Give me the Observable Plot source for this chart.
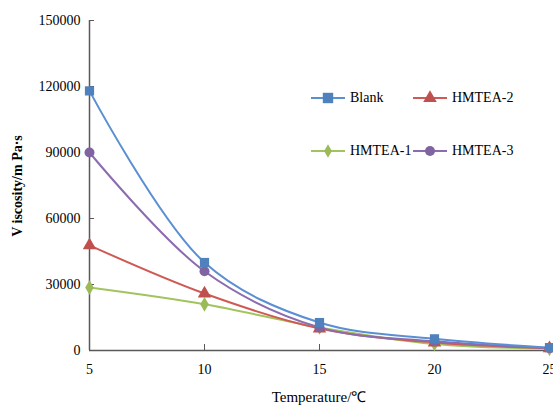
<!DOCTYPE html>
<html>
<head>
<meta charset="utf-8">
<script src="https://cdn.jsdelivr.net/npm/d3@7"></script>
<script src="https://cdn.jsdelivr.net/npm/@observablehq/plot@0.6"></script>
<style>
  html, body { margin: 0; padding: 0; background: #fff; }
  #wrap { position: relative; width: 553px; height: 406px; overflow: hidden; }
  .leg { position: absolute; display: flex; align-items: center; font-family: "Liberation Serif", serif; font-size: 14px; color: #000; }
  .leg svg { margin-right: 5px; }
</style>
</head>
<body>
<div id="wrap"></div>
<script>
const temps = [5, 10, 15, 20, 25];
const seriesNames = ["Blank", "HMTEA-2", "HMTEA-1", "HMTEA-3"];
const blank = [118000, 40000, 12700, 5300, 1300];
const hmtea2 = [47800, 25900, 10000, 3600, 1000];
const hmtea1 = [28600, 21000, 10500, 3000, 800];
const hmtea3 = [90000, 36000, 10500, 4200, 1100];
const xTicks = [5, 10, 15, 20, 25];
const yTicks = [0, 30000, 60000, 90000, 120000, 150000];

const colors = {"Blank": "#4F81BD", "HMTEA-2": "#C0504D", "HMTEA-1": "#9BBB59", "HMTEA-3": "#8064A2"};
const lineColors = {"Blank": "#5B8FD3", "HMTEA-2": "#CF5A55", "HMTEA-1": "#A2C45E", "HMTEA-3": "#8C6CB0"};
const symbols = {"Blank": "square", "HMTEA-2": "triangle", "HMTEA-1": "diamond", "HMTEA-3": "circle"};
const radii = {"Blank": 5.2, "HMTEA-2": 5, "HMTEA-1": 4.5, "HMTEA-3": 5};
const valuesBy = {"Blank": blank, "HMTEA-2": hmtea2, "HMTEA-1": hmtea1, "HMTEA-3": hmtea3};

const data = [];
for (const s of seriesNames) temps.forEach((t, i) => data.push({series: s, t, v: valuesBy[s][i]}));

const drawOrder = ["HMTEA-1", "HMTEA-2", "HMTEA-3", "Blank"];
const marks = [];
for (const s of drawOrder) {
  const d = data.filter(r => r.series === s);
  marks.push(Plot.line(d, {x: "t", y: "v", stroke: lineColors[s], strokeWidth: 2, curve: "catmull-rom"}));
}
for (const s of drawOrder) {
  const d = data.filter(r => r.series === s);
  marks.push(Plot.dot(d, {x: "t", y: "v", symbol: symbols[s], fill: colors[s], r: radii[s], stroke: "none"}));
}

const chart = Plot.plot({
  width: 553, height: 406,
  marginLeft: 89, marginRight: 4, marginTop: 20, marginBottom: 56,
  x: {domain: [5, 25]},
  y: {domain: [0, 150000]},
  style: {fontFamily: "Liberation Serif, serif", fontSize: "14px", color: "#000", background: "#fff", overflow: "visible"},
  marks: [
    Plot.axisY({ticks: yTicks, tickSize: 0, tickPadding: 9, tickFormat: d => String(d), label: null}),
    Plot.axisY({ticks: yTicks, tickSize: -5, text: null, label: null, stroke: "#595959"}),
    Plot.axisX({ticks: xTicks, tickSize: 0, tickPadding: 14, tickFormat: d => String(d), label: null}),
    Plot.axisX({ticks: xTicks, tickSize: -6, text: null, label: null, stroke: "#595959"}),
    Plot.ruleX([5], {stroke: "#595959", strokeWidth: 1.5}),
    Plot.ruleY([0], {stroke: "#595959", strokeWidth: 1.5}),
    ...marks
  ]
});
const wrap = document.getElementById("wrap");
wrap.appendChild(chart);

// axis titles
function addText(txt, css) {
  const el = document.createElement("div");
  el.textContent = txt;
  el.style.position = "absolute";
  el.style.fontFamily = "Liberation Serif, serif";
  el.style.whiteSpace = "nowrap";
  el.style.color = "#000";
  Object.assign(el.style, css);
  wrap.appendChild(el);
  return el;
}
addText("Temperature/℃", {left: "319px", top: "386px", fontSize: "15px", transform: "translateX(-50%)"});
addText("V iscosity/m Pa·s", {left: "18px", top: "186px", fontSize: "14px", fontWeight: "bold", transform: "translate(-50%,-50%) rotate(-90deg)"});

// legend
const legendPos = [
  {s: "Blank", x: 311, y: 98},
  {s: "HMTEA-2", x: 413, y: 98},
  {s: "HMTEA-1", x: 311, y: 151},
  {s: "HMTEA-3", x: 413, y: 151}
];
for (const p of legendPos) {
  const div = document.createElement("div");
  div.className = "leg";
  div.style.left = p.x + "px";
  div.style.top = (p.y - 10) + "px";
  div.style.height = "20px";
  const ns = "http://www.w3.org/2000/svg";
  const svg = document.createElementNS(ns, "svg");
  svg.setAttribute("width", 34); svg.setAttribute("height", 20);
  const ln = document.createElementNS(ns, "line");
  ln.setAttribute("x1", 0); ln.setAttribute("x2", 34); ln.setAttribute("y1", 10); ln.setAttribute("y2", 10);
  ln.setAttribute("stroke", lineColors[p.s]); ln.setAttribute("stroke-width", 2);
  svg.appendChild(ln);
  const sym = document.createElementNS(ns, "path");
  const symMap = {square: d3.symbolSquare, triangle: d3.symbolTriangle, diamond: d3.symbolDiamond, circle: d3.symbolCircle};
  const r = radii[p.s];
  const sizeFactor = {square: 4, triangle: 3.2, diamond: 2.6, circle: Math.PI}[symbols[p.s]];
  sym.setAttribute("d", d3.symbol(symMap[symbols[p.s]], r * r * sizeFactor)());
  sym.setAttribute("transform", "translate(17,10)");
  sym.setAttribute("fill", colors[p.s]);
  svg.appendChild(sym);
  div.appendChild(svg);
  const t = document.createElement("span");
  t.textContent = p.s;
  div.appendChild(t);
  wrap.appendChild(div);
}
</script>
</body>
</html>
